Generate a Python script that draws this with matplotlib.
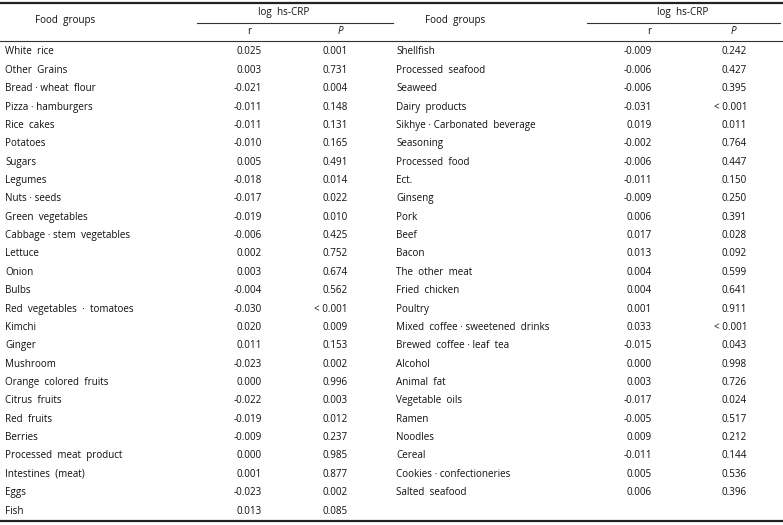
import matplotlib.pyplot as plt

# left half of the table
left_foods = ["White  rice", "Other  Grains", "Bread · wheat  flour", "Pizza · hamburgers",
              "Rice  cakes", "Potatoes", "Sugars", "Legumes", "Nuts · seeds",
              "Green  vegetables", "Cabbage · stem  vegetables", "Lettuce", "Onion", "Bulbs",
              "Red  vegetables  ·  tomatoes", "Kimchi", "Ginger", "Mushroom",
              "Orange  colored  fruits", "Citrus  fruits", "Red  fruits", "Berries",
              "Processed  meat  product", "Intestines  (meat)", "Eggs", "Fish"]
left_r = ["0.025", "0.003", "-0.021", "-0.011", "-0.011", "-0.010", "0.005", "-0.018",
          "-0.017", "-0.019", "-0.006", "0.002", "0.003", "-0.004", "-0.030", "0.020",
          "0.011", "-0.023", "0.000", "-0.022", "-0.019", "-0.009", "0.000", "0.001",
          "-0.023", "0.013"]
left_p = ["0.001", "0.731", "0.004", "0.148", "0.131", "0.165", "0.491", "0.014", "0.022",
          "0.010", "0.425", "0.752", "0.674", "0.562", "< 0.001", "0.009", "0.153", "0.002",
          "0.996", "0.003", "0.012", "0.237", "0.985", "0.877", "0.002", "0.085"]

# right half of the table
right_foods = ["Shellfish", "Processed  seafood", "Seaweed", "Dairy  products",
               "Sikhye · Carbonated  beverage", "Seasoning", "Processed  food", "Ect.",
               "Ginseng", "Pork", "Beef", "Bacon", "The  other  meat", "Fried  chicken",
               "Poultry", "Mixed  coffee · sweetened  drinks", "Brewed  coffee · leaf  tea",
               "Alcohol", "Animal  fat", "Vegetable  oils", "Ramen", "Noodles", "Cereal",
               "Cookies · confectioneries", "Salted  seafood"]
right_r = ["-0.009", "-0.006", "-0.006", "-0.031", "0.019", "-0.002", "-0.006", "-0.011",
           "-0.009", "0.006", "0.017", "0.013", "0.004", "0.004", "0.001", "0.033", "-0.015",
           "0.000", "0.003", "-0.017", "-0.005", "0.009", "-0.011", "0.005", "0.006"]
right_p = ["0.242", "0.427", "0.395", "< 0.001", "0.011", "0.764", "0.447", "0.150", "0.250",
           "0.391", "0.028", "0.092", "0.599", "0.641", "0.911", "< 0.001", "0.043", "0.998",
           "0.726", "0.024", "0.517", "0.212", "0.144", "0.536", "0.396"]

W, H = 783, 525
fig = plt.figure(figsize=(W / 100, H / 100), dpi=100)
ax = fig.add_axes([0, 0, 1, 1])
ax.set_xlim(0, W)
ax.set_ylim(H, 0)
ax.axis("off")

fs = 7.1
kw = dict(fontsize=fs, family="Open Sans", color="#111111", va="center")

row0, step = 52, 18.36


def half(x0, name_x, gx, line_x0, line_x1, r_x, p_x, r_hx, p_hx, foods, rs, ps):
    ax.text(name_x, 21, "Food  groups", ha="center", **kw)
    ax.text(gx, 12, "log  hs-CRP", ha="center", **kw)
    ax.plot([line_x0, line_x1], [22.5, 22.5], color="#333333", lw=0.8)
    ax.text(r_hx, 32, "r", ha="center", **kw)
    ax.text(p_hx, 32, "P", ha="center", style="italic", **kw)
    for i, (f, r, p) in enumerate(zip(foods, rs, ps)):
        y = row0 + i * step
        ax.text(x0, y, f, ha="left", **kw)
        ax.text(r_x, y, r, ha="right", **kw)
        ax.text(p_x, y, p, ha="right", **kw)


half(5, 65, 284, 197, 393, 262, 348, 249, 340, left_foods, left_r, left_p)
half(396, 455, 683, 587, 780, 652, 747, 649, 733, right_foods, right_r, right_p)

ax.plot([0, W], [3, 3], color="#222222", lw=1.6)
ax.plot([0, W], [40.5, 40.5], color="#333333", lw=0.8)
ax.plot([0, W], [521, 521], color="#222222", lw=1.6)

fig.savefig("out.png", dpi=100)
